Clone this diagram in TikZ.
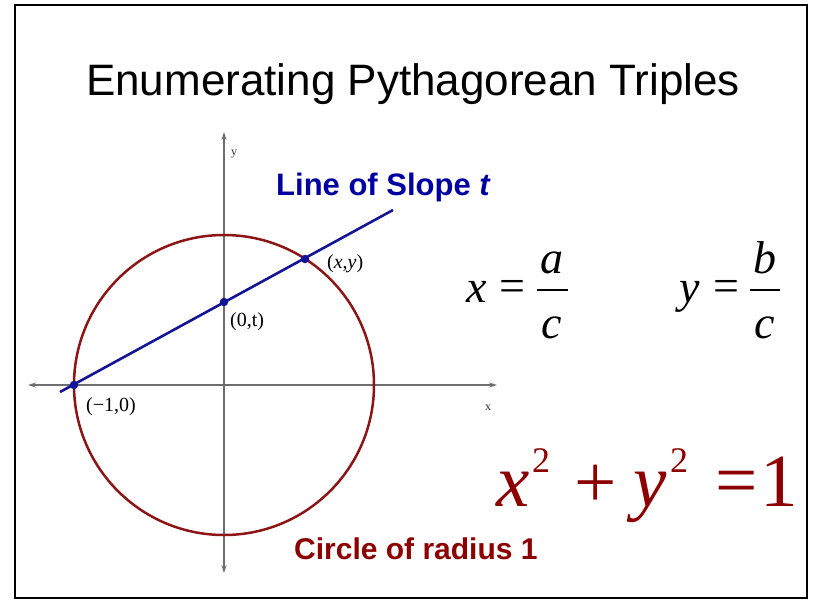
\documentclass[tikz,border=0pt]{standalone}
\usepackage{fontspec}
\setmainfont{Liberation Serif}
\newfontfamily\arialfont{Liberation Sans}
\newfontfamily\timesfont{Liberation Serif}
\usetikzlibrary{arrows.meta}
\definecolor{circred}{RGB}{140,22,22}
\definecolor{textred}{RGB}{140,0,0}
\definecolor{textblue}{RGB}{0,0,160}
\definecolor{lineblue}{RGB}{20,20,150}
\definecolor{axisgray}{RGB}{110,110,110}
\tikzset{
  axisline/.style={draw=axisgray, line width=1.1pt, -{Stealth[length=8pt,width=5pt]}},
  dotpt/.style={circle, fill=lineblue, inner sep=0pt, minimum size=8.5pt},
  smalllab/.style={inner sep=0pt, font=\timesfont\fontsize{20}{22}\selectfont},
  axislab/.style={inner sep=0pt, font=\timesfont\fontsize{12}{14}\selectfont, text=black!80},
  eqblack/.style={inner sep=0pt, font=\timesfont\fontsize{46}{50}\selectfont},
  eqred/.style={inner sep=0pt, text=textred, font=\timesfont\fontsize{75}{80}\selectfont},
  supred/.style={inner sep=0pt, text=textred, font=\timesfont\fontsize{36}{40}\selectfont},
}
\begin{document}
\begin{tikzpicture}[x=1pt,y=-1pt]
\useasboundingbox (0,0) rectangle (813,600);
\fill[white] (0,0) rectangle (813,600);
\draw[line width=2.5pt] (15,5) rectangle (807,598);

% title
\node[inner sep=0pt, anchor=base, font=\arialfont\fontsize{44}{50}\selectfont] (title) at (413,95) {Enumerating Pythagorean Triples};

% axes
\coordinate (O) at (224,385);
\coordinate (xl) at (28,385);
\coordinate (xr) at (497,385);
\coordinate (yt) at (224,132);
\coordinate (yb) at (224,573);
\draw[axisline] (O) -- (xl);
\draw[axisline] (O) -- (xr);
\draw[axisline] (O) -- (yt);
\draw[axisline] (O) -- (yb);
\node[axislab] (ylab) at (234,154) {y};
\node[axislab] (xlab) at (488,408) {x};

% circle
\draw[circred, line width=2.5pt] (O) circle (150);

% line of slope t
\coordinate (L1) at (60,392);
\coordinate (L2) at (393,210);
\draw[lineblue, line width=2.6pt] (L1) -- (L2);
\node[dotpt] (Pm) at (74,385) {};
\node[dotpt] (Pt) at (224,302) {};
\node[dotpt] (Pxy) at (305,259) {};

\node[smalllab, anchor=west] (lm) at (86,407) {(−1,0)};
\node[smalllab, anchor=west] (lt) at (230,322) {(0,t)};
\node[smalllab, anchor=west] (lxy) at (327,264) {(\textit{x},\textit{y})};

\node[inner sep=0pt, anchor=base west, text=textblue, font=\arialfont\bfseries\fontsize{31}{34}\selectfont] (slope) at (276,195) {Line of Slope \textit{t}};
\node[inner sep=0pt, anchor=base west, text=textred, font=\arialfont\bfseries\fontsize{30}{34}\selectfont] (circ) at (294,559) {Circle of radius 1};

% x = a/c
\node[eqblack, anchor=base west] (ex) at (466,302) {\itshape x};
\node[eqblack] (eeq1) at (512,291) {=};
\node[eqblack, anchor=base] (ea) at (552,273) {\itshape a};
\node[eqblack, anchor=base] (ec1) at (552,338) {\itshape c};
\coordinate (b1l) at (537,290);
\coordinate (b1r) at (568,290);
\draw[line width=2pt] (b1l) -- (b1r);

% y = b/c
\node[eqblack, anchor=base west] (ey) at (679,302) {\itshape y};
\node[eqblack] (eeq2) at (726,291) {=};
\node[eqblack, anchor=base] (eb) at (765,273) {\itshape b};
\node[eqblack, anchor=base] (ec2) at (765,338) {\itshape c};
\coordinate (b2l) at (750,290);
\coordinate (b2r) at (780,290);
\draw[line width=2pt] (b2l) -- (b2r);

% x^2 + y^2 = 1
\node[eqred, anchor=base west] (rx) at (496,506) {\itshape x};
\node[supred, anchor=base west] (r2a) at (532,472) {2};
\node[eqred] (rplus) at (596,486) {+};
\node[eqred, anchor=base west] (ry) at (633,506) {\itshape y};
\node[supred, anchor=base west] (r2b) at (670,472) {2};
\node[eqred] (req) at (737,488) {=};
\node[eqred, anchor=base] (r1) at (779,506) {1};
\end{tikzpicture}
\end{document}
